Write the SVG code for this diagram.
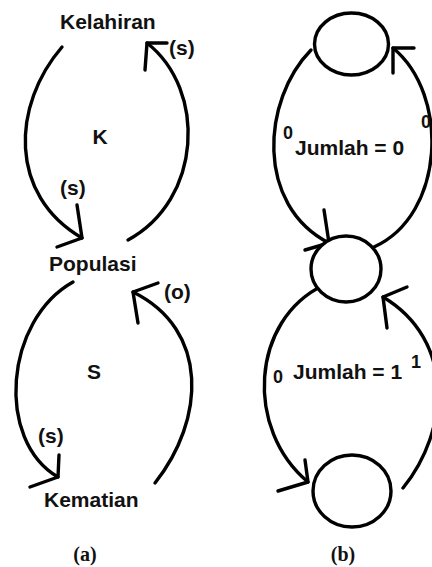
<svg xmlns="http://www.w3.org/2000/svg" width="432" height="567" viewBox="0 0 432 567">
<style>
.t{font-family:"Liberation Sans",Arial,sans-serif;font-weight:bold;font-size:21px;fill:#111}
.d{font-family:"Liberation Sans",Arial,sans-serif;font-weight:bold;font-size:18px;fill:#111}
.cap{font-family:"Liberation Serif","Times New Roman",serif;font-weight:bold;font-size:20px;fill:#111}
.e{fill:none;stroke:#000;stroke-width:3.4;stroke-linecap:round;stroke-linejoin:round}
.n{fill:#fff;stroke:#000;stroke-width:3.4}
</style>
<rect width="432" height="567" fill="#fff"/>
<g id="connectors">
<path class="e" d="M62,47 C12,105 8,195 82,238"/>
<polyline class="e" points="77,205 82,238 57,247"/>
<path class="e" d="M128,240 C202,200 207,90 147,43"/>
<polyline class="e" points="145,70 147,43 167,43"/>
<path class="e" d="M73,282 C5,320 -5,440 58,477"/>
<polyline class="e" points="59,455 58,477 30,487"/>
<path class="e" d="M155,483 C205,420 210,330 133,292"/>
<polyline class="e" points="138,323 133,292 158,283"/>
<path class="e" d="M311,50 C262,100 255,205 329,243"/>
<polyline class="e" points="324,210 329,243 305,250"/>
<path class="e" d="M374,247 C445,215 450,95 393,48"/>
<polyline class="e" points="393,73 393,48 414,48"/>
<path class="e" d="M324,285 C250,320 245,430 308,482"/>
<polyline class="e" points="305,460 308,482 278,491"/>
<path class="e" d="M403,488 C450,430 455,340 383,297"/>
<polyline class="e" points="387,328 383,297 407,287"/>
</g>
<g id="kelahiran"><text class="t" x="60" y="29">Kelahiran</text></g>
<g id="populasi"><text class="t" x="49" y="271">Populasi</text></g>
<g id="kematian"><text class="t" x="44" y="507">Kematian</text></g>
<g id="labels-a">
<text class="t" x="169" y="55">(s)</text>
<text class="t" x="100" y="144" text-anchor="middle">K</text>
<text class="t" x="60" y="195">(s)</text>
<text class="t" x="164" y="299">(o)</text>
<text class="t" x="94" y="379" text-anchor="middle">S</text>
<text class="t" x="38" y="443">(s)</text>
<text class="cap" x="85" y="561" text-anchor="middle">(a)</text>
</g>
<g id="state-top"><ellipse class="n" cx="351.5" cy="44" rx="37" ry="31"/></g>
<g id="state-mid"><ellipse class="n" cx="346" cy="269" rx="35" ry="33"/></g>
<g id="state-bottom"><ellipse class="n" cx="352" cy="491" rx="39" ry="36"/></g>
<g id="labels-b">
<text class="d" x="288" y="139" text-anchor="middle">0</text>
<text class="t" x="295" y="155">Jumlah = 0</text>
<text class="d" x="426" y="128" text-anchor="middle">0</text>
<text class="d" x="278" y="383" text-anchor="middle">0</text>
<text class="t" x="293" y="379">Jumlah = 1</text>
<text class="d" x="416" y="368" text-anchor="middle">1</text>
<text class="cap" x="343" y="561" text-anchor="middle">(b)</text>
</g>
</svg>
